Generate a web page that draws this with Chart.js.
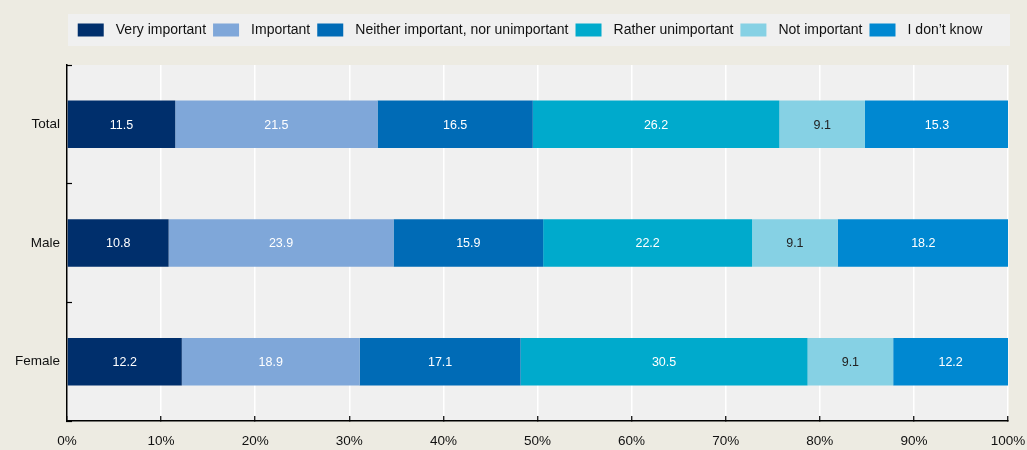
<!DOCTYPE html>
<html><head><meta charset="utf-8">
<script src="https://cdn.jsdelivr.net/npm/chart.js@4.4.1/dist/chart.umd.min.js"></script>
<style>html,body{margin:0;padding:0;background:#EDEBE2;} #wrap{width:1027px;height:450px;position:relative;}</style>
</head><body><div id="wrap"><canvas id="c"></canvas></div>
<script>
const categories = ['Total', 'Male', 'Female'];
const seriesNames = ['Very important', 'Important', 'Neither important, nor unimportant', 'Rather unimportant', 'Not important', 'I don\u2019t know'];
const veryImportant = [11.5, 10.8, 12.2];
const important = [21.5, 23.9, 18.9];
const neither = [16.5, 15.9, 17.1];
const ratherUnimportant = [26.2, 22.2, 30.5];
const notImportant = [9.1, 9.1, 9.1];
const dontKnow = [15.3, 18.2, 12.2];
const xTickValues = [0, 10, 20, 30, 40, 50, 60, 70, 80, 90, 100];

const seriesValues = [veryImportant, important, neither, ratherUnimportant, notImportant, dontKnow];
const colors = ['#002F6C', '#7FA7D9', '#006BB6', '#00AACC', '#86D1E4', '#0088D1'];
const FONT = "'Liberation Sans', Arial, sans-serif";

const bgPlugin = {
  id: 'bg',
  beforeDraw(chart) {
    const {ctx, chartArea: a} = chart;
    ctx.save();
    ctx.fillStyle = '#EDEBE2';
    ctx.fillRect(0, 0, chart.width, chart.height);
    ctx.fillStyle = '#F0F0F0';
    ctx.fillRect(a.left + 1, 14, a.right - a.left + 1, 32);
    ctx.fillRect(a.left, a.top, a.right - a.left, a.bottom - a.top);
    ctx.restore();
  }
};

const legendLayoutPlugin = {
  id: 'legendLayout',
  afterInit(chart) {
    const lg = chart.legend;
    const f = lg.fit;
    lg.fit = function () { f.call(this); this.height = 49; };
  },
  afterLayout(chart) {
    const lg = chart.legend, a = chart.chartArea;
    lg.left = a.left - 15;
    lg.right = a.right;
    lg.width = lg.right - lg.left;
    if (lg.adjustHitBoxes) lg.adjustHitBoxes();
  }
};

const valueLabels = {
  id: 'valueLabels',
  afterDatasetsDraw(chart) {
    const {ctx} = chart;
    ctx.save();
    ctx.font = '12.5px ' + FONT;
    ctx.textAlign = 'center';
    ctx.textBaseline = 'middle';
    chart.data.datasets.forEach((ds, i) => {
      const meta = chart.getDatasetMeta(i);
      meta.data.forEach((el, j) => {
        const cx = (el.x + el.base) / 2;
        ctx.fillStyle = i === 4 ? '#222' : '#fff';
        ctx.fillText(ds.data[j].toFixed(1), cx, el.y + 1);
      });
    });
    ctx.restore();
  }
};

new Chart(document.getElementById('c'), {
  type: 'bar',
  data: {
    labels: categories,
    datasets: seriesNames.map((n, i) => ({
      label: n,
      data: seriesValues[i],
      backgroundColor: colors[i],
      borderWidth: 0,
      barPercentage: 0.4,
      categoryPercentage: 1
    }))
  },
  options: {
    indexAxis: 'y',
    responsive: true,
    maintainAspectRatio: false,
    animation: false,
    layout: {padding: {top: 16, left: 0, right: 0, bottom: 0}},
    plugins: {
      legend: {
        position: 'top',
        labels: {
          boxWidth: 26, boxHeight: 13, padding: 7,
          color: '#111',
          font: {family: FONT, size: 14},
          generateLabels(chart) {
            const items = Chart.defaults.plugins.legend.labels.generateLabels(chart);
            items.forEach(it => { it.text = ' \u200A' + it.text; });
            return items;
          }
        }
      },
      tooltip: {enabled: false}
    },
    scales: {
      x: {
        stacked: true,
        min: 0, max: 100,
        afterBuildTicks(scale) { scale.ticks = xTickValues.map(v => ({value: v})); },
        afterFit(scale) { scale.height = 29; scale.paddingLeft = 0; scale.paddingRight = 19; },
        ticks: {
          callback: v => v + '%',
          color: '#111',
          font: {family: FONT, size: 13.5},
          padding: 17,
          maxRotation: 0
        },
        grid: {color: '#FFFFFF', lineWidth: 1.5, tickLength: -5, tickColor: '#000', tickWidth: 1.2},
        border: {display: true, color: '#000', width: 1.5}
      },
      y: {
        stacked: true,
        afterFit(scale) { scale.width = 67; },
        ticks: {
          color: '#111',
          font: {family: FONT, size: 13.5},
          padding: 12
        },
        grid: {offset: true, color: 'rgba(0,0,0,0)', tickLength: -5, tickColor: '#000', tickWidth: 1.2, drawOnChartArea: false},
        border: {display: true, color: '#000', width: 1.5}
      }
    }
  },
  plugins: [bgPlugin, legendLayoutPlugin, valueLabels]
});
</script>
</body></html>
